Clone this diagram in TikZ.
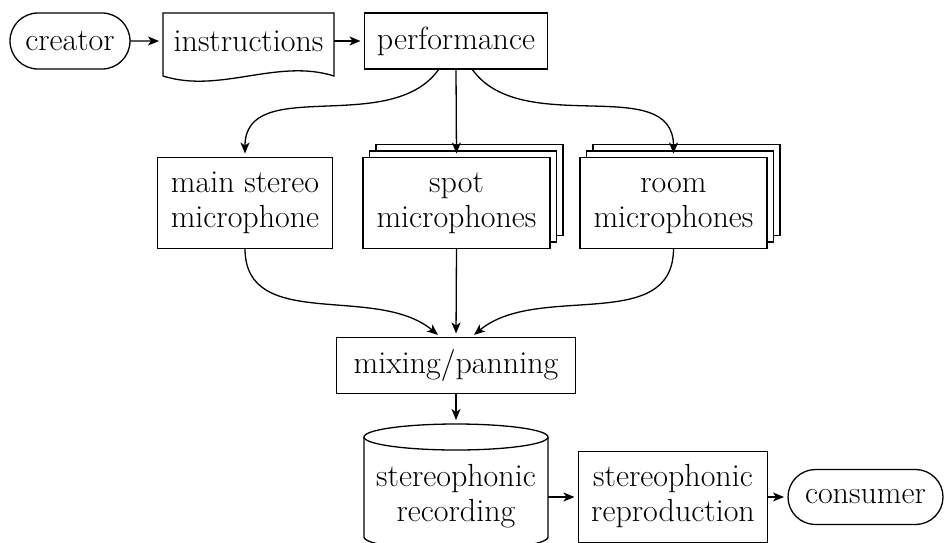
\documentclass[tikz,border=0pt]{standalone}
\usetikzlibrary{arrows.meta,shapes.misc,shadows}

\tikzset{
  base/.style={font=\fontsize{32}{35}\selectfont, align=center, inner sep=0pt, outer sep=0pt},
  box/.style={base, draw, fill=white, line width=1.3pt},
  pill/.style={base, draw, fill=white, line width=1.3pt, rounded rectangle},
  plain/.style={base},
  stack/.style={box,
    copy shadow={shadow xshift=13pt, shadow yshift=13pt, draw=black, fill=white, line width=1.3pt},
    copy shadow={shadow xshift=6.5pt, shadow yshift=6.5pt, draw=black, fill=white, line width=1.3pt}},
  link/.style={line width=1.3pt, -{Stealth[length=11pt,width=9pt,inset=3pt]}, shorten >=4pt},
  outline/.style={line width=1.3pt}
}

\begin{document}
\begin{tikzpicture}[x=1pt, y=1pt]
  \useasboundingbox (0,0) rectangle (945,-542);

  % top row
  \node[pill, minimum width=120pt, minimum height=56pt] (creator) at (70,-41) {creator};
  \node[plain, minimum width=171pt, minimum height=56pt] (instr) at (248.5,-41) {instructions};
  \node[box, minimum width=183pt, minimum height=56pt] (perf) at (456,-41) {performance};

  % document outline with a wavy lower edge
  \draw[outline] ([yshift=-7pt]instr.south west) -- (instr.north west) -- (instr.north east)
    -- ([yshift=-7pt]instr.south east)
    .. controls ([xshift=-57pt,yshift=11pt]instr.south east) and ([xshift=57pt,yshift=-25pt]instr.south west)
    .. ([yshift=-7pt]instr.south west);

  % microphones
  \node[box, minimum width=175pt, minimum height=91pt] (main) at (245,-203) {\strut main stereo\\\strut microphone};
  \node[stack, minimum width=187pt, minimum height=91pt] (spot) at (456.5,-203) {\strut spot\\\strut microphones};
  \node[stack, minimum width=187pt, minimum height=91pt] (room) at (673.5,-203) {\strut room\\\strut microphones};

  % mixing
  \node[box, minimum width=239pt, minimum height=56pt] (mix) at (456,-365.5) {mixing/panning};

  % recording (cylinder)
  \node[plain, minimum width=184pt, minimum height=80pt] (rec) at (456,-497) {\strut stereophonic\\\strut recording};
  \coordinate (rectop) at (456,-424);
  \draw[outline] (456,-437) ellipse[x radius=92, y radius=13];
  \draw[outline] (364,-437) -- (364,-537) arc[start angle=180, end angle=360, x radius=92, y radius=13] -- (548,-437);

  % reproduction and consumer
  \node[box, minimum width=189pt, minimum height=91pt] (repro) at (673,-497) {\strut stereophonic\\\strut reproduction};
  \node[pill, minimum width=155pt, minimum height=55pt] (cons) at (865.5,-497) {consumer};

  % connectors
  \draw[link] (creator) -- (instr);
  \draw[link] (instr) -- (perf);
  \draw[link] ([xshift=-17pt]perf.south) to[out=-125, in=90] (main.north);
  \draw[link] (perf.south) -- (spot.north);
  \draw[link] ([xshift=16pt]perf.south) to[out=-55, in=90] (room.north);
  \draw[link] (main.south) to[out=-90, in=140] ([xshift=-15pt]mix.north);
  \draw[link] (spot.south) -- (mix.north);
  \draw[link] (room.south) to[out=-90, in=40] ([xshift=15pt]mix.north);
  \draw[link] (mix.south) -- (rectop);
  \draw[link] (rec.east) -- (repro.west);
  \draw[link] (repro.east) -- (cons.west);
\end{tikzpicture}
\end{document}
